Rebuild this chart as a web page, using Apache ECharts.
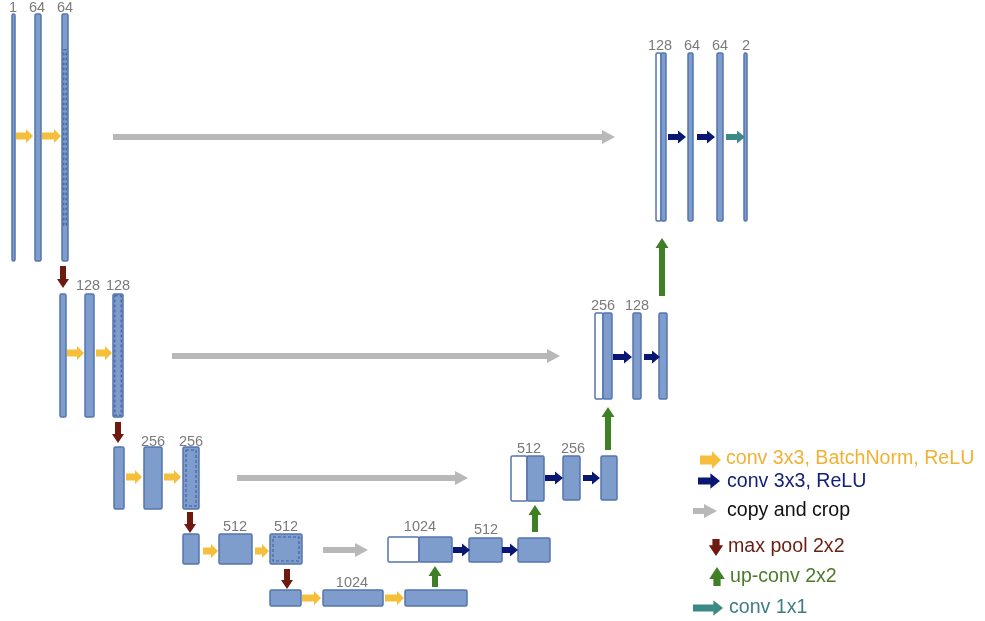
<!DOCTYPE html>
<html>
<head>
<meta charset="utf-8">
<script src="https://cdn.jsdelivr.net/npm/echarts@6/dist/echarts.min.js"></script>
<style>
html,body{margin:0;padding:0;background:#fff;}
#c{width:985px;height:621px;}
</style>
</head>
<body>
<div id="c"></div>
<script>
// ---- data (diagram units) ----
// feature-map blocks: [x0, y0, x1, y1, kind]  kind: b=blue, d=blue dashed, w=white(copied)
const encoderBlocks = [
  [12,14,15,261,'b'], [35,14,41,261,'b'], [62,14,68,261,'d'],
  [60,294,66,417,'b'], [85,294,94,417,'b'], [113,294,123,417,'d'],
  [114,447,124,509,'b'], [144,447,162,509,'b'], [183,447,199,509,'d'],
  [183,534,199,564,'b'], [219,534,252,564,'b'], [270,534,302,564,'d'],
  [270,590,301,606,'b'], [323,590,383,606,'b'], [405,590,467,606,'b']
];
const decoderBlocks = [
  [388,537,419,562,'w'], [419,537,452,562,'b'], [469,538,502,562,'b'], [518,538,550,562,'b'],
  [511,456,527,501,'w'], [527,456,544,501,'b'], [563,456,580,500,'b'], [601,456,617,500,'b'],
  [595,313,603,399,'w'], [603,313,612,399,'b'], [633,313,641,399,'b'], [659,313,667,399,'b'],
  [656,53,661,221,'w'], [661,53,666,221,'b'], [688,53,693,221,'b'], [717,53,723,221,'b'], [744,53,747,221,'b']
];
// channel labels: [x, y, text]
const channelLabels = [
  [13,8,'1'], [37,8,'64'], [65,8,'64'],
  [88,286,'128'], [118,286,'128'],
  [153,442,'256'], [191,442,'256'],
  [235,527,'512'], [286,527,'512'],
  [352,583,'1024'],
  [420,527,'1024'], [486,530,'512'],
  [529,449,'512'], [573,449,'256'],
  [603,306,'256'], [637,306,'128'],
  [660,46,'128'], [692,46,'64'], [720,46,'64'], [746,46,'2']
];
// operation arrows: [x0, y0, x1, y1]
const convBnArrows = [
  [16,136,33,136], [42,136,61,136], [67,353,84,353], [96,353,112,353],
  [126,477,142,477], [164,477,181,477], [203,551,218,551], [255,551,269,551],
  [302,598,321,598], [385,598,404,598]
];
const convArrows = [
  [668,137,686,137], [697,137,715,137], [453,550,470,550], [502,550,518,550],
  [545,478,563,478], [583,478,600,478], [613,357,632,357], [644,357,660,357]
];
const conv1x1Arrows = [[726,137,745,137]];
const copyArrows = [[113,137,615,137], [172,356,560,356], [237,478,468,478], [323,550,368,550]];
const poolArrows = [[63,266,63,288], [118,422,118,443], [190,512,190,533], [287,569,287,589]];
const upArrows = [[435,587,435,566], [535,532,535,505], [608,450,608,407], [662,296,662,238]];
// legend
const legendTypes = ['convbn','conv','copy','pool','up','conv1'];
const legendTexts = ['conv 3x3, BatchNorm, ReLU','conv 3x3, ReLU','copy and crop','max pool 2x2','up-conv 2x2','conv 1x1'];
const legendArrowPos = [[700,460,721,460],[698,481,720,481],[693,511,717,511],[716,539,716,556],[717,586,717,567],[693,608,723,608]];
const legendTextPos = [[726,459],[727,482],[727,511],[728,547],[730,577],[729,608]];

// ---- styles ----
const BLUE_FILL = '#7F9DCC', BLUE_LINE = '#5475AD', DASH_LINE = '#3C5C98';
const arrowStyle = {
  convbn: {color:'#F5BF3C', s:3.5, h:7, hl:7},
  conv:   {color:'#0A1772', s:3, h:6.5, hl:8},
  conv1:  {color:'#3C8A88', s:3, h:6.5, hl:8},
  copy:   {color:'#B8B8B8', s:3, h:7, hl:13},
  pool:   {color:'#6E1A10', s:3, h:6, hl:9},
  up:     {color:'#3F7F26', s:3, h:6.5, hl:10}
};
const legendScale = {convbn:1.3, conv:1.2, copy:1.0, pool:1.2, up:1.2, conv1:1.2};
const legendTextColor = {convbn:'#F2B134', conv:'#14217A', copy:'#111111', pool:'#6B1E12', up:'#4D7A2B', conv1:'#3F7C85'};

function makeBlockRender(blocks) {
  return function(params, api) {
    const p0 = api.coord([api.value(0), api.value(1)]);
    const p1 = api.coord([api.value(2), api.value(3)]);
    const kind = blocks[params.dataIndex][4];
    const x = p0[0], y = p0[1], w = p1[0]-p0[0], h = p1[1]-p0[1];
    const children = [{
      type:'rect', shape:{x:x, y:y, width:w, height:h, r:1.5},
      style:{fill: kind==='w' ? '#FFFFFF' : BLUE_FILL, stroke: BLUE_LINE, lineWidth: 1.5}
    }];
    if (kind === 'd') {
      const ins = w < 12 ? 1.8 : 3;
      const cut = h > 200 ? 34 : 0;
      children.push({
        type:'rect', shape:{x:x+ins, y:y+ins+cut, width:w-2*ins, height:h-2*ins-2*cut},
        style:{fill:'none', stroke: DASH_LINE, lineWidth: 1.1, lineDash:[3,2]}
      });
    }
    return {type:'group', children: children};
  };
}

function arrowShape(api, st, scale) {
  const a = api.coord([api.value(0), api.value(1)]);
  const b = api.coord([api.value(2), api.value(3)]);
  const dx = b[0]-a[0], dy = b[1]-a[1];
  const L = Math.sqrt(dx*dx+dy*dy) || 1;
  const ux = dx/L, uy = dy/L, nx = -uy, ny = ux;
  const s = st.s*scale, h = st.h*scale, hl = Math.min(st.hl*scale, L*0.7);
  const bx = b[0]-ux*hl, by = b[1]-uy*hl;
  const pts = [
    [a[0]+nx*s, a[1]+ny*s], [bx+nx*s, by+ny*s], [bx+nx*h, by+ny*h], [b[0], b[1]],
    [bx-nx*h, by-ny*h], [bx-nx*s, by-ny*s], [a[0]-nx*s, a[1]-ny*s]
  ];
  return {type:'polygon', shape:{points:pts}, style:{fill: st.color, stroke:'none'}};
}

function arrowSeries(data, type) {
  return {
    type:'custom', coordinateSystem:'cartesian2d', silent:true,
    data: data, encode:{x:[0,2], y:[1,3]}, clip:false,
    renderItem: function(params, api){ return arrowShape(api, arrowStyle[type], 1); }
  };
}

const chart = echarts.init(document.getElementById('c'), null, {renderer:'canvas'});
const series = [
  {type:'custom', coordinateSystem:'cartesian2d', silent:true, clip:false,
   data: encoderBlocks.map(d=>d.slice(0,4)), encode:{x:[0,2], y:[1,3]}, renderItem: makeBlockRender(encoderBlocks)},
  {type:'custom', coordinateSystem:'cartesian2d', silent:true, clip:false,
   data: decoderBlocks.map(d=>d.slice(0,4)), encode:{x:[0,2], y:[1,3]}, renderItem: makeBlockRender(decoderBlocks)},
  arrowSeries(convBnArrows, 'convbn'),
  arrowSeries(convArrows, 'conv'),
  arrowSeries(conv1x1Arrows, 'conv1'),
  arrowSeries(copyArrows, 'copy'),
  arrowSeries(poolArrows, 'pool'),
  arrowSeries(upArrows, 'up'),
  {type:'custom', coordinateSystem:'cartesian2d', silent:true, clip:false,
   data: channelLabels.map(d=>[d[0], d[1]]), encode:{x:0, y:1},
   renderItem: function(params, api){
     const p = api.coord([api.value(0), api.value(1)]);
     return {type:'text', x:p[0], y:p[1], style:{text: channelLabels[params.dataIndex][2], fill:'#7A7A7A',
       font:'14.5px "Liberation Sans", Arial, sans-serif', textAlign:'center', textVerticalAlign:'middle'}};
   }},
  {type:'custom', coordinateSystem:'cartesian2d', silent:true, clip:false,
   data: legendArrowPos, encode:{x:[0,2], y:[1,3]},
   renderItem: function(params, api){
     const t = legendTypes[params.dataIndex];
     return arrowShape(api, arrowStyle[t], legendScale[t]);
   }},
  {type:'custom', coordinateSystem:'cartesian2d', silent:true, clip:false,
   data: legendTextPos, encode:{x:0, y:1},
   renderItem: function(params, api){
     const p = api.coord([api.value(0), api.value(1)]);
     const t = legendTypes[params.dataIndex];
     return {type:'text', x:p[0], y:p[1], style:{text: legendTexts[params.dataIndex], fill: legendTextColor[t],
       font:'19.6px "Liberation Sans", Arial, sans-serif', textAlign:'left', textVerticalAlign:'middle'}};
   }}
];

chart.setOption({
  animation:false,
  backgroundColor:'#ffffff',
  grid:{left:0, right:0, top:0, bottom:0},
  xAxis:{type:'value', min:0, max:985, show:false},
  yAxis:{type:'value', min:0, max:621, inverse:true, show:false},
  series: series
});
</script>
</body>
</html>
